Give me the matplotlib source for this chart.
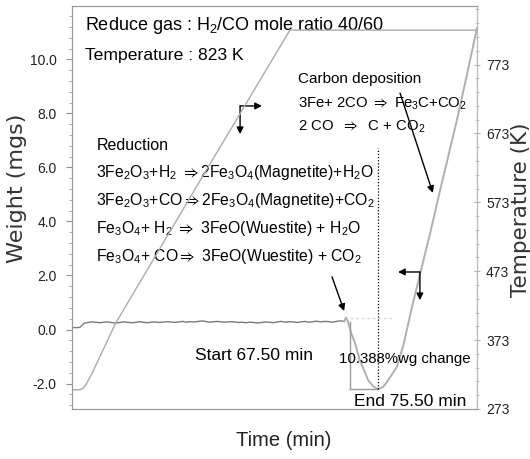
import matplotlib
matplotlib.use('agg')
import matplotlib.pyplot as plt
import numpy as np

plt.rcParams['font.family'] = ['Liberation Sans', 'DejaVu Sans']
plt.rcParams['mathtext.fontset'] = 'custom'
plt.rcParams['mathtext.rm'] = 'Liberation Sans'
plt.rcParams['mathtext.it'] = 'Liberation Sans:italic'
plt.rcParams['mathtext.fallback'] = 'stixsans'   # supplies \Rightarrow

# --- TGA run: weight (mg) and furnace temperature (K) vs time (min) ---
temp_time = [-2.0, 0.0, 0.8, 1.6, 3.1, 9.0, 30.5, 53.2, 100.6]
temp_K = [301, 301, 303, 309, 325, 397, 605, 823, 823]

# baseline before the gas is switched on
w_start_time = [-2.0, -0.8, 0.0, 0.6, 1.2]
w_start = [0.07, 0.07, 0.08, 0.17, 0.24]
# flat part, one reading per minute from t = 2 min
flat_w = [0.26, 0.28, 0.27, 0.25, 0.27, 0.28, 0.26, 0.24, 0.26, 0.28,
          0.27, 0.25, 0.26, 0.29, 0.27, 0.25, 0.27, 0.28, 0.26, 0.27,
          0.29, 0.28, 0.26, 0.28, 0.30, 0.27, 0.29, 0.28, 0.30, 0.32,
          0.29, 0.27, 0.29, 0.30, 0.28, 0.27, 0.29, 0.28, 0.26, 0.27,
          0.25, 0.27, 0.26, 0.24, 0.26, 0.28, 0.27, 0.25, 0.28, 0.30,
          0.27, 0.29, 0.28, 0.26, 0.28, 0.30, 0.27, 0.29, 0.31, 0.28,
          0.30, 0.29, 0.27, 0.30, 0.32, 0.30]
# reduction step and carbon deposition afterwards
w_end_time = [67.4, 67.9, 68.7, 69.7, 70.9, 73.0, 74.2, 75.5, 76.8, 77.8,
              80.3, 82.0, 84.0, 86.0, 88.7, 91.0, 95.5, 98.3, 100.6]
w_end = [0.45, 0.30, -0.13, -0.50, -1.13, -1.87, -2.09, -2.20, -2.13, -1.94,
         -1.39, -0.55, 0.75, 1.95, 3.55, 5.00, 7.75, 9.60, 11.17]

start_min = 67.50
end_min = 75.50
step_line_min = 68.4
wg_change = 10.388
w_before = 0.28
w_after = -2.20
w_ref = 0.43

weight_ticks = [-2.0, 0.0, 2.0, 4.0, 6.0, 8.0, 10.0]
temp_ticks = [273, 373, 473, 573, 673, 773]

flat_time = np.arange(2, 2 + len(flat_w))
n_flat = len(w_start_time) + len(flat_w)
weight_time = np.concatenate([w_start_time, flat_time, w_end_time])
weight = np.concatenate([w_start, flat_w, w_end])

fig = plt.figure(figsize=(5.30, 4.59), dpi=100)
ax = fig.add_axes([72 / 530, 50 / 459, 405 / 530, 403 / 459])
ax2 = ax.twinx()

ax.plot(weight_time[:n_flat], weight[:n_flat], color='#7a7a7a', lw=1.0)
ax.plot(weight_time[n_flat - 1:], weight[n_flat - 1:], color='#b0b0b0', lw=1.4)
ax2.plot(temp_time, temp_K, color='#ababab', lw=1.0)

# step analysis marks
ax.plot([step_line_min, step_line_min], [w_before, w_after], color='#9a9a9a', lw=1.0)
ax.plot([step_line_min, end_min], [w_after, w_after], color='#9a9a9a', lw=1.0)
ax.plot([step_line_min, 79.3], [w_ref, w_ref], color='#d8d8d8', lw=1.0, ls=(0, (2, 2)))
ax.plot([end_min, end_min], [w_after, 6.72], color='black', lw=0.9, ls=(0, (1, 1.5)))

ax.set_xlim(-2.0, 100.6)
ax.set_ylim(-2.944, 11.98)
ax2.set_ylim(273, 858)

ax.set_xticks([])
ax.set_yticks(weight_ticks)
ax.set_yticklabels([f"{v:.1f}" for v in weight_ticks])
ax.set_yticks(np.arange(-2.8, 12.0, 0.4), minor=True)
ax.tick_params(axis='y', which='major', direction='out', length=4, width=0.8,
               color='#909090', pad=7, labelsize=10, labelcolor='#222222')
ax.tick_params(axis='y', which='minor', direction='out', length=2.5, width=0.7,
               color='#a8a8a8')

ax2.set_yticks(temp_ticks)
ax2.set_yticks(np.arange(273, 858, 20), minor=True)
ax2.tick_params(axis='y', which='major', direction='inout', length=5, width=0.8,
                color='#b0b0b0', pad=4, labelsize=10, labelcolor='#222222')
ax2.tick_params(axis='y', which='minor', direction='inout', length=3, width=0.7,
                color='#c0c0c0')

for a in (ax, ax2):
    for side in ('left', 'top', 'bottom'):
        a.spines[side].set_color('#9a9a9a')
    a.spines['right'].set_color('#b8b8b8')

fig.text(17 / 530, 1 - 188 / 459, "Weight (mgs)", rotation=90, ha='center', va='center',
         family='DejaVu Sans', fontsize=16, color='#333333')
fig.text(521 / 530, 1 - 210 / 459, "Temperature (K)", rotation=90, ha='center', va='center',
         family='DejaVu Sans', fontsize=15.5, color='#333333')
fig.text(284 / 530, 1 - 440 / 459, "Time (min)", ha='center', va='center',
         fontsize=14.5, color='#222222')

tr = ax.transAxes
ax.text(0.032, 0.940, "Reduce gas : H$_2$/CO mole ratio 40/60", transform=tr, fontsize=13)
ax.text(0.032, 0.866, "Temperature : 823 K", transform=tr, fontsize=12.6)

ax.text(0.558, 0.809, "Carbon deposition", transform=tr, fontsize=11)
ax.text(0.558, 0.749, r"3Fe+ 2CO $\Rightarrow$ Fe$_3$C+CO$_2$", transform=tr, fontsize=10.7)
ax.text(0.558, 0.690, r"2 CO  $\Rightarrow$  C + CO$_2$", transform=tr, fontsize=10.7)

ax.text(0.062, 0.643, "Reduction", transform=tr, fontsize=11.5)
reactions = [r"3Fe$_2$O$_3$+H$_2$ $\Rightarrow$2Fe$_3$O$_4$(Magnetite)+H$_2$O",
             r"3Fe$_2$O$_3$+CO$\Rightarrow$2Fe$_3$O$_4$(Magnetite)+CO$_2$",
             r"Fe$_3$O$_4$+ H$_2$ $\Rightarrow$ 3FeO(Wuestite) + H$_2$O",
             r"Fe$_3$O$_4$+ CO$\Rightarrow$ 3FeO(Wuestite) + CO$_2$"]
for line, y in zip(reactions, [0.576, 0.506, 0.437, 0.367]):
    ax.text(0.060, y, line, transform=tr, fontsize=11.3)

ax.text(0.304, 0.122, f"Start {start_min:.2f} min", transform=tr, fontsize=12.5)
ax.text(0.659, 0.114, f"{wg_change:.3f}%wg change", transform=tr, fontsize=10.8)
ax.text(0.697, 0.008, f"End {end_min:.2f} min", transform=tr, fontsize=12.5)

arrow = dict(arrowstyle='-|>', color='black', lw=1.0, mutation_scale=10, shrinkA=0, shrinkB=0)
ax.annotate('', xy=(0.672, 0.243), xytext=(0.642, 0.328), xycoords=tr, arrowprops=arrow)
ax.annotate('', xy=(0.891, 0.536), xytext=(0.810, 0.784), xycoords=tr, arrowprops=arrow)

# axis pointers: temperature curve -> right axis, weight curve -> left axis
ax.annotate('', xy=(0.469, 0.752), xytext=(0.415, 0.752), xycoords=tr, arrowprops=arrow)
ax.annotate('', xy=(0.415, 0.682), xytext=(0.415, 0.752), xycoords=tr, arrowprops=arrow)
ax.annotate('', xy=(0.805, 0.340), xytext=(0.859, 0.340), xycoords=tr, arrowprops=arrow)
ax.annotate('', xy=(0.859, 0.270), xytext=(0.859, 0.340), xycoords=tr, arrowprops=arrow)

fig.savefig('out.png', dpi=100)
